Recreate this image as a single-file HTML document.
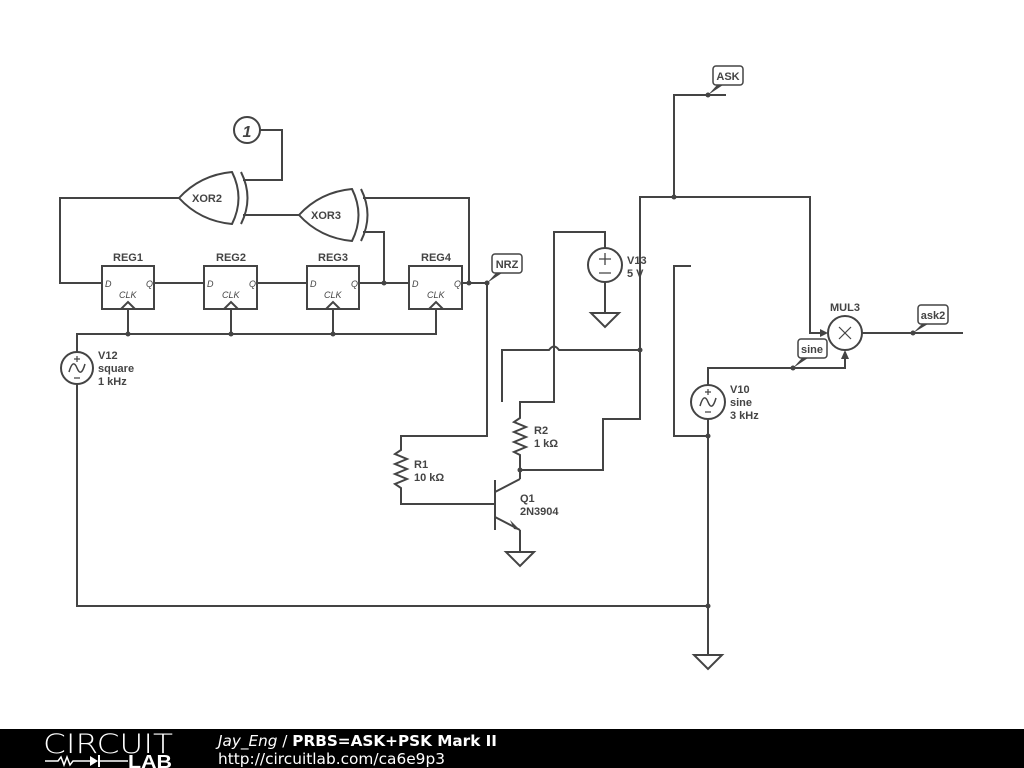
<!DOCTYPE html>
<html><head><meta charset="utf-8"><style>
html,body{margin:0;padding:0;background:#fff;width:1024px;height:768px;overflow:hidden}
svg{display:block}
text{font-family:"Liberation Sans",sans-serif;fill:#444}
</style></head><body>
<svg width="1024" height="768" viewBox="0 0 1024 768" xmlns="http://www.w3.org/2000/svg">
<g stroke="#444" stroke-width="2" fill="none">
<circle cx="247" cy="130" r="13"/>
<polyline points="260,130 282,130 282,180 243,180"/>
<path d="M179,198 Q200,175 232,172 Q245,198 232,224 Q200,221 179,198 Z"/>
<path d="M241,172 Q254,198 241,224"/>
<polyline points="179,198 60,198 60,283 102,283"/>
<line x1="243" y1="215" x2="299" y2="215"/>
<path d="M299,215 Q320,192 352,189 Q365,215 352,241 Q320,238 299,215 Z"/>
<path d="M361,189 Q374,215 361,241"/>
<polyline points="363,198 469,198 469,283"/>
<polyline points="363,232 384,232 384,283"/>
<rect x="102" y="266" width="52" height="43"/>
<rect x="204" y="266" width="53" height="43"/>
<rect x="307" y="266" width="52" height="43"/>
<rect x="409" y="266" width="53" height="43"/>
<polyline points="121,309 128,302 135,309"/>
<polyline points="224,309 231,302 238,309"/>
<polyline points="326,309 333,302 340,309"/>
<polyline points="429,309 436,302 443,309"/>
<line x1="154" y1="283" x2="204" y2="283"/>
<line x1="257" y1="283" x2="307" y2="283"/>
<line x1="359" y1="283" x2="409" y2="283"/>
<line x1="462" y1="283" x2="487" y2="283"/>
<line x1="128" y1="309" x2="128" y2="334"/>
<line x1="231" y1="309" x2="231" y2="334"/>
<line x1="333" y1="309" x2="333" y2="334"/>
<polyline points="436,309 436,334 77,334 77,352"/>
<circle cx="77" cy="368" r="16"/>
<path d="M69,372 Q73,358 77,368 Q81,378 85,364" stroke-width="1.5"/>
<path d="M77,356 v6 M74,359 h6 M74,378 h6" stroke-width="1.2"/>
<polyline points="77,384 77,606 708,606"/>
<polyline points="487,283 487,436 401,436 401,450 395,454 407,459 395,464 407,469 395,474 407,479 395,484 401,488 401,504 495,504"/>
<line x1="495" y1="480" x2="495" y2="530"/>
<line x1="495" y1="492" x2="520" y2="479"/>
<polyline points="520,479 520,470"/>
<line x1="495" y1="517" x2="520" y2="530"/>
<polyline points="520,530 520,552"/>
<polygon points="506,552 534,552 520,566"/>
<polyline points="520,470 520,455 514,452 526,447 514,442 526,437 514,432 526,427 514,422 520,418 520,402 554,402 554,232 605,232 605,248"/>
<polyline points="520,470 603,470 603,419 640,419 640,197 810,197 810,333 826,333"/>
<circle cx="605" cy="265" r="17"/>
<path d="M605,253 v12 M599,259 h12 M599,273 h12" stroke-width="1.3"/>
<line x1="605" y1="282" x2="605" y2="313"/>
<polygon points="591,313 619,313 605,327"/>
<path d="M502,402 L502,350 L549,350 Q554,343 559,350 L640,350"/>
<polyline points="674,197 674,95 726,95"/>
<polyline points="691,266 674,266 674,436 708,436"/>
<circle cx="708" cy="402" r="17"/>
<path d="M700,406 Q704,392 708,402 Q712,412 716,398" stroke-width="1.5"/>
<path d="M708,389 v6 M705,392 h6 M705,412 h6" stroke-width="1.2"/>
<polyline points="708,385 708,368 845,368 845,352"/>
<polyline points="708,419 708,655"/>
<polygon points="694,655 722,655 708,669"/>
<circle cx="845" cy="333" r="17"/>
<line x1="839" y1="327" x2="851" y2="339" stroke-width="1.2"/>
<line x1="851" y1="327" x2="839" y2="339" stroke-width="1.2"/>
<line x1="862" y1="333" x2="963" y2="333"/>
<rect x="492" y="254" width="30" height="19" rx="3" stroke-width="1.5"/>
<rect x="713" y="66" width="30" height="19" rx="3" stroke-width="1.5"/>
<rect x="798" y="339" width="29" height="19" rx="3" stroke-width="1.5"/>
<rect x="918" y="305" width="30" height="19" rx="3" stroke-width="1.5"/>
</g>
<g fill="#444">
<polygon points="487,283 496,273 502,273"/>
<polygon points="708,95 717,85 723,85"/>
<polygon points="793,368 802,358 808,358"/>
<polygon points="913,333 922,324 928,324"/>
<polygon points="828,333 820,329 820,337"/>
<polygon points="845,350 841,359 849,359"/>
<polygon points="520,530 510,520 514,529"/>
<circle cx="128" cy="334" r="2.5"/><circle cx="231" cy="334" r="2.5"/><circle cx="333" cy="334" r="2.5"/>
<circle cx="384" cy="283" r="2.5"/><circle cx="469" cy="283" r="2.5"/><circle cx="487" cy="283" r="2.5"/>
<circle cx="674" cy="197" r="2.5"/><circle cx="640" cy="350" r="2.5"/><circle cx="520" cy="470" r="2.5"/>
<circle cx="708" cy="436" r="2.5"/><circle cx="708" cy="606" r="2.5"/>
<circle cx="708" cy="95" r="2.5"/><circle cx="793" cy="368" r="2.5"/><circle cx="913" cy="333" r="2.5"/>
</g>
<g font-size="11" font-weight="bold">
<text x="247" y="137" text-anchor="middle" font-size="16" font-style="italic">1</text>
<text x="207" y="202" text-anchor="middle">XOR2</text>
<text x="326" y="219" text-anchor="middle">XOR3</text>
<text x="128" y="261" text-anchor="middle">REG1</text>
<text x="231" y="261" text-anchor="middle">REG2</text>
<text x="333" y="261" text-anchor="middle">REG3</text>
<text x="436" y="261" text-anchor="middle">REG4</text>
<text x="507" y="268" text-anchor="middle">NRZ</text>
<text x="728" y="80" text-anchor="middle">ASK</text>
<text x="812" y="353" text-anchor="middle">sine</text>
<text x="933" y="319" text-anchor="middle">ask2</text>
<text x="845" y="311" text-anchor="middle">MUL3</text>
<text x="98" y="359">V12</text><text x="98" y="372">square</text><text x="98" y="385">1 kHz</text>
<text x="627" y="264">V13</text><text x="627" y="277">5 V</text>
<text x="730" y="393">V10</text><text x="730" y="406">sine</text><text x="730" y="419">3 kHz</text>
<text x="414" y="468">R1</text><text x="414" y="481">10 kΩ</text>
<text x="534" y="434">R2</text><text x="534" y="447">1 kΩ</text>
<text x="520" y="502">Q1</text><text x="520" y="515">2N3904</text>
</g>
<g font-size="9" font-style="italic">
<text x="105" y="287">D</text><text x="146" y="287">Q</text><text x="119" y="298">CLK</text>
<text x="207" y="287">D</text><text x="249" y="287">Q</text><text x="222" y="298">CLK</text>
<text x="310" y="287">D</text><text x="351" y="287">Q</text><text x="324" y="298">CLK</text>
<text x="412" y="287">D</text><text x="454" y="287">Q</text><text x="427" y="298">CLK</text>
</g>
<rect x="0" y="729" width="1024" height="39" fill="#000"/>
<text x="43" y="753" font-size="27" textLength="130" lengthAdjust="spacingAndGlyphs" style="fill:#fff;font-family:'DejaVu Sans',sans-serif;font-weight:200">CIRCUIT</text>
<polyline points="45,761 58,761 61,757 64,765 67,757 70,765 73,761 90,761" stroke="#fff" stroke-width="1.5" fill="none"/>
<polygon points="90,756 90,766 98,761" fill="#fff"/>
<line x1="99" y1="755" x2="99" y2="767" stroke="#fff" stroke-width="2"/>
<line x1="99" y1="761" x2="128" y2="761" stroke="#fff" stroke-width="1.5"/>
<text x="128" y="768" font-size="18" font-weight="bold" textLength="44" lengthAdjust="spacingAndGlyphs" style="fill:#fff">LAB</text>
<text x="218" y="746" font-size="15" textLength="279" lengthAdjust="spacingAndGlyphs" style="fill:#fff;font-family:'DejaVu Sans',sans-serif"><tspan font-style="italic">Jay_Eng</tspan> / <tspan font-weight="bold">PRBS=ASK+PSK Mark II</tspan></text>
<text x="218" y="764" font-size="15" textLength="227" lengthAdjust="spacingAndGlyphs" style="fill:#fff;font-family:'DejaVu Sans',sans-serif">http://circuitlab.com/ca6e9p3</text>
</svg>
</body></html>
